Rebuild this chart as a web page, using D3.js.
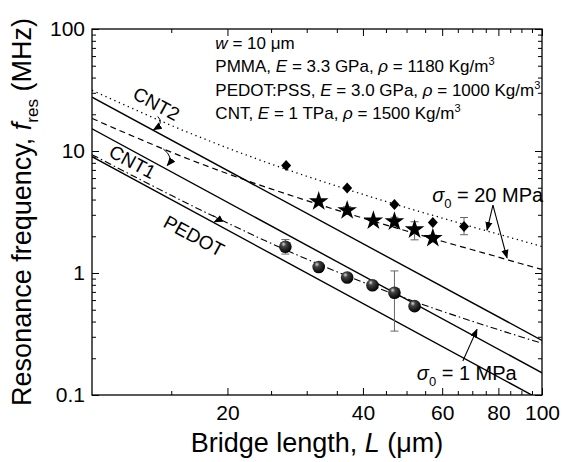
<!DOCTYPE html>
<html><head><meta charset="utf-8">
<script src="https://cdn.jsdelivr.net/npm/d3@7"></script>
<style>
body{margin:0;background:#fff}
svg{display:block}
text{font-family:"Liberation Sans",Arial,Helvetica,sans-serif;fill:#000}
</style>
</head><body><div id="chart"></div>
<script>
// ---------- data ----------
const curveL       = [10, 12, 15, 20, 25, 30, 40, 50, 60, 70, 80, 90, 100];
const dottedCNT2   = [31.5, 23.2, 16.2, 10.6, 7.82, 6.21, 4.41, 3.43, 2.82, 2.39, 2.08, 1.84, 1.65];
const dashedCNT1   = [18.5, 13.8, 9.78, 6.52, 4.89, 3.92, 2.82, 2.21, 1.82, 1.55, 1.35, 1.19, 1.07];
const dashDotPEDOT = [9.34, 6.59, 4.33, 2.57, 1.75, 1.30, 0.841, 0.616, 0.486, 0.402, 0.343, 0.299, 0.266];

const solidL      = [10, 100];
const solidCNT2   = [27.6, 0.28];
const solidCNT1   = [15.2, 0.152];
const solidPEDOT  = [9.0, 0.09];

const diamondL   = [27.0, 36.9, 47.0, 57.2, 67.1];
const diamondF   = [7.6, 4.97, 3.65, 2.59, 2.41];
const diamondErr = [null, null, null, null, [2.06, 2.85]];

const starL   = [31.9, 36.9, 42.2, 47.0, 52.1, 57.2];
const starF   = [3.86, 3.26, 2.69, 2.64, 2.27, 1.93];
const starErr = [null, [3.02, 3.50], null, [2.42, 2.86], [1.87, 2.63], [1.80, 2.05]];

const sphereL   = [26.9, 31.9, 36.9, 42.0, 47.0, 52.1];
const sphereF   = [1.64, 1.12, 0.918, 0.794, 0.688, 0.535];
const sphereErr = [[1.43, 1.88], null, [0.87, 0.96], [0.74, 0.85], [0.334, 1.04], null];

const xMajorTicks = [20, 40, 60, 80, 100];
const xMinorTicks = [15, 25, 30, 35, 45, 50, 55, 65, 70, 75, 85, 90, 95];
const yMajorTicks = [0.1, 1, 10, 100];
const yMinorTicks = [0.2,0.3,0.4,0.5,0.6,0.7,0.8,0.9, 2,3,4,5,6,7,8,9, 20,30,40,50,60,70,80,90];

const infoLines = [
  [["w", true], [" = 10 μm", false]],
  [["PMMA, ", false], ["E", true], [" = 3.3 GPa, ", false], ["ρ", true], [" = 1180 Kg/m", false], ["3", "sup"]],
  [["PEDOT:PSS, ", false], ["E", true], [" = 3.0 GPa, ", false], ["ρ", true], [" = 1000 Kg/m", false], ["3", "sup"]],
  [["CNT, ", false], ["E", true], [" = 1 TPa, ", false], ["ρ", true], [" = 1500 Kg/m", false], ["3", "sup"]]
];

// ---------- layout ----------
const W = 564, H = 462;
const m = {left: 92, top: 29, right: 22, bottom: 67};
const pw = W - m.left - m.right, ph = H - m.top - m.bottom;

const svg = d3.select("#chart").append("svg").attr("width", W).attr("height", H);
const defs = svg.append("defs");
defs.append("clipPath").attr("id", "clip").append("rect").attr("width", pw).attr("height", ph);
const grad = defs.append("radialGradient").attr("id", "ball").attr("cx", "40%").attr("cy", "35%").attr("r", "65%").attr("fx", "35%").attr("fy", "28%");
grad.append("stop").attr("offset", "0%").attr("stop-color", "#d8d8d8");
grad.append("stop").attr("offset", "30%").attr("stop-color", "#444");
grad.append("stop").attr("offset", "100%").attr("stop-color", "#000");
defs.append("marker").attr("id", "arr").attr("viewBox", "0 0 10 10").attr("refX", 9).attr("refY", 5)
  .attr("markerWidth", 9).attr("markerHeight", 9).attr("markerUnits", "userSpaceOnUse").attr("orient", "auto")
  .append("path").attr("d", "M0,1 L10,5 L0,9 Z").attr("fill", "#000");

const g = svg.append("g").attr("transform", `translate(${m.left},${m.top})`);
const x = d3.scaleLog().domain([10, 100]).range([0, pw]);
const y = d3.scaleLog().domain([0.1, 100]).range([ph, 0]);

// ---------- axes ----------
const fmtY = d => d < 1 ? d3.format(".1f")(d) : d3.format("d")(d);
function addAxis(gen, tf, labels) {
  const a = g.append("g").attr("transform", tf).call(gen);
  a.select(".domain").remove();
  a.selectAll("line").attr("stroke", "#000").attr("stroke-width", 1);
  a.selectAll("text").style("font-size", labels ? "21px" : "0px");
  return a;
}
addAxis(d3.axisBottom(x).tickValues(xMajorTicks).tickSize(-7).tickPadding(10).tickFormat(d3.format("d")), `translate(0,${ph})`, true);
addAxis(d3.axisBottom(x).tickValues(xMinorTicks).tickSize(-4).tickFormat(""), `translate(0,${ph})`, false);
addAxis(d3.axisTop(x).tickValues(xMajorTicks).tickSize(-7).tickFormat(""), `translate(0,0)`, false);
addAxis(d3.axisTop(x).tickValues(xMinorTicks).tickSize(-4).tickFormat(""), `translate(0,0)`, false);
addAxis(d3.axisLeft(y).tickValues(yMajorTicks).tickSize(-7).tickPadding(7).tickFormat(fmtY), `translate(0,0)`, true);
addAxis(d3.axisLeft(y).tickValues(yMinorTicks).tickSize(-4).tickFormat(""), `translate(0,0)`, false);
addAxis(d3.axisRight(y).tickValues(yMajorTicks).tickSize(-7).tickFormat(""), `translate(${pw},0)`, false);
addAxis(d3.axisRight(y).tickValues(yMinorTicks).tickSize(-4).tickFormat(""), `translate(${pw},0)`, false);

g.append("rect").attr("width", pw).attr("height", ph).attr("fill", "none").attr("stroke", "#000").attr("stroke-width", 1.3);

// ---------- lines ----------
const lineGen = d3.line().x(d => x(d[0])).y(d => y(d[1])).curve(d3.curveMonotoneX);
const plot = g.append("g").attr("clip-path", "url(#clip)");
function addLine(Ls, Fs, dash, w) {
  plot.append("path").datum(Ls.map((L, i) => [L, Fs[i]]))
    .attr("d", lineGen).attr("fill", "none").attr("stroke", "#000")
    .attr("stroke-width", w).attr("stroke-dasharray", dash);
}
addLine(solidL, solidCNT2, null, 1.4);
addLine(solidL, solidCNT1, null, 1.4);
addLine(solidL, solidPEDOT, null, 1.4);
addLine(curveL, dottedCNT2, "1.3,3.6", 1.3);
addLine(curveL, dashedCNT1, "6,4", 1.2);
addLine(curveL, dashDotPEDOT, "7,3,1.5,3", 1.1);

// ---------- error bars ----------
function addErr(Ls, errs) {
  Ls.forEach((L, i) => {
    const e = errs[i]; if (!e) return;
    const cx = x(L), y0 = y(e[0]), y1 = y(e[1]);
    const eg = g.append("g").attr("stroke", "#666").attr("stroke-width", 1);
    eg.append("line").attr("x1", cx).attr("x2", cx).attr("y1", y0).attr("y2", y1);
    eg.append("line").attr("x1", cx - 4).attr("x2", cx + 4).attr("y1", y0).attr("y2", y0);
    eg.append("line").attr("x1", cx - 4).attr("x2", cx + 4).attr("y1", y1).attr("y2", y1);
  });
}
addErr(diamondL, diamondErr);
addErr(starL, starErr);
addErr(sphereL, sphereErr);

// ---------- markers ----------
g.selectAll(".dia").data(diamondL).join("path").attr("class", "dia")
  .attr("d", "M0,-5.5 L5,0 L0,5.5 L-5,0 Z").attr("fill", "#000")
  .attr("transform", (L, i) => `translate(${x(L)},${y(diamondF[i])})`);
g.selectAll(".star").data(starL).join("path").attr("class", "star")
  .attr("d", d3.symbol(d3.symbolStar, 120)).attr("fill", "#000")
  .attr("transform", (L, i) => `translate(${x(L)},${y(starF[i])})`);
g.selectAll(".ball").data(sphereL).join("circle").attr("class", "ball")
  .attr("r", 6.3).attr("fill", "url(#ball)")
  .attr("cx", L => x(L)).attr("cy", (L, i) => y(sphereF[i]));

// ---------- annotations ----------
const info = g.append("g").attr("transform", `translate(${x(18.8) },0)`);
infoLines.forEach((parts, li) => {
  const t = info.append("text").attr("y", 20 + li * 23.3).style("font-size", "17px");
  parts.forEach(p => {
    const s = t.append("tspan").text(p[0]);
    if (p[1] === true) s.style("font-style", "italic");
    if (p[1] === "sup") s.attr("dy", "-7").style("font-size", "11px");
  });
});

function sigmaLabel(L, f, rest) {
  const t = g.append("text").attr("x", x(L)).attr("y", y(f)).style("font-size", "20px");
  t.append("tspan").text("σ").style("font-style", "italic");
  t.append("tspan").text("0").attr("dy", 6).style("font-size", "13px");
  t.append("tspan").text(rest).attr("dy", -6);
}
sigmaLabel(57.0, 3.82, " = 20 MPa");
sigmaLabel(52.7, 0.133, " = 1 MPa");

function arrow(p0, p1) {
  g.append("line").attr("x1", x(p0[0])).attr("y1", y(p0[1])).attr("x2", x(p1[0])).attr("y2", y(p1[1]))
    .attr("stroke", "#000").attr("stroke-width", 1.1).attr("marker-end", "url(#arr)");
}
arrow([77.8, 3.6], [75.5, 2.25]);
arrow([77.8, 3.6], [83.6, 1.33]);
arrow([66.7, 0.19], [71.7, 0.345]);

// rotated curve labels (angle of a 1/L^2 line on these axes)
const slopeAng = Math.atan((y(1) - y(100)) / (x(100) - x(10))) * 180 / Math.PI;
function curveLabel(L, f, txt) {
  g.append("text").attr("transform", `translate(${x(L)},${y(f)}) rotate(${slopeAng})`)
    .attr("text-anchor", "middle").attr("dominant-baseline", "central").style("font-size", "19px").text(txt);
}
curveLabel(13.9, 24.3, "CNT2");
curveLabel(12.3, 8.13, "CNT1");
curveLabel(16.85, 2.01, "PEDOT");

// small curved connectors
function hook(L0, f0, L1, f1, bend) {
  const p0 = [x(L0), y(f0)], p1 = [x(L1), y(f1)];
  const mx = (p0[0] + p1[0]) / 2 + bend, my = (p0[1] + p1[1]) / 2;
  g.append("path").attr("d", `M${p0[0]},${p0[1]} Q${mx},${my} ${p1[0]},${p1[1]}`)
    .attr("fill", "none").attr("stroke", "#000").attr("stroke-width", 1).attr("marker-end", "url(#arr)");
}
hook(14.0, 19.2, 13.7, 14.9, 9);
hook(14.4, 10.4, 14.7, 7.6, 9);
hook(18.6, 2.95, 18.7, 2.62, 7);

// ---------- axis titles ----------
const xt = svg.append("text").attr("x", m.left + pw / 2).attr("y", 452).attr("text-anchor", "middle").style("font-size", "27px");
xt.append("tspan").text("Bridge length, ");
xt.append("tspan").text("L").style("font-style", "italic");
xt.append("tspan").text(" (μm)");

const yt = svg.append("text").attr("transform", `translate(31,${m.top + ph / 2}) rotate(-90)`).attr("text-anchor", "middle").style("font-size", "27px");
yt.append("tspan").text("Resonance frequency, ");
yt.append("tspan").text("f").style("font-style", "italic");
yt.append("tspan").text("res").attr("dy", 7).style("font-size", "17px");
yt.append("tspan").text(" (MHz)").attr("dy", -7);
</script>
</body></html>
